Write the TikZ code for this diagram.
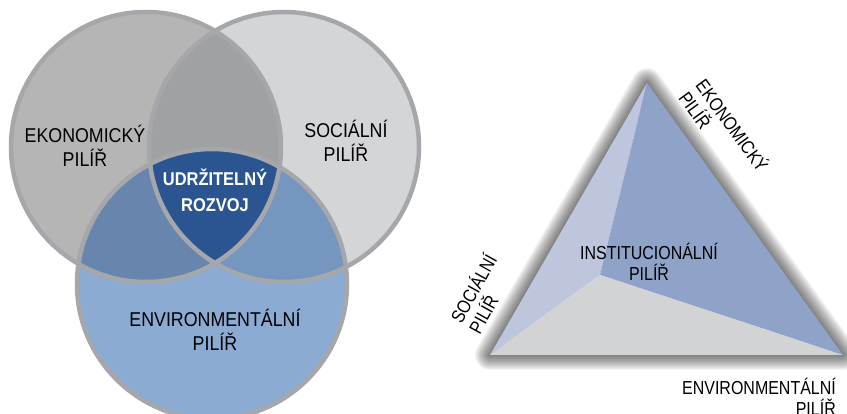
\documentclass[tikz,border=0pt]{standalone}
\usepackage{fontspec}
\setmainfont{Liberation Sans}
\newfontfamily\vennfont[FakeStretch=0.89]{Liberation Sans}
\newfontfamily\trifont[FakeStretch=0.85]{Liberation Sans}
\definecolor{ringgray}{HTML}{A6A7AA}
\definecolor{econgray}{HTML}{B5B5B6}
\definecolor{socgray}{HTML}{D4D5D7}
\definecolor{envblue}{HTML}{8CABD3}
\definecolor{econsoc}{HTML}{A0A1A3}
\definecolor{econenv}{HTML}{6785AD}
\definecolor{socenv}{HTML}{7596BF}
\definecolor{goalblue}{HTML}{2A5591}
\definecolor{faceleft}{HTML}{BDC6DC}
\definecolor{faceright}{HTML}{8FA3C9}
\definecolor{facebottom}{HTML}{D2D3D5}
\tikzset{
  ring/.style={
    % The border:
    draw=ringgray,
    line width=4.5pt},
  venn label/.style={
    % The text:
    font=\vennfont\fontsize{20}{24}\selectfont,
    align=center,
    inner sep=0pt},
  goal label/.style={
    font=\vennfont\bfseries\fontsize{18.5}{26}\selectfont,
    align=center,inner sep=0pt,text=white},
  tri label/.style={
    % The text:
    font=\trifont\fontsize{18.8}{21}\selectfont,
    inner sep=0pt},
  point/.style={coordinate}
}

\begin{document}
\begin{tikzpicture}[x=1pt,y=-1pt,
                    shadow ring/.style={draw=black,draw opacity=0.045,line join=round}]
  \useasboundingbox (0,0) rectangle (847,414);

  % Venn diagram
  \node (econ c) [point] at (146,147) {};
  \node (soc c)  [point] at (284,147) {};
  \node (env c)  [point] at (212,284) {};

  \fill[econgray] (econ c) circle (135pt);
  \fill[socgray]  (soc c)  circle (135pt);
  \fill[envblue]  (env c)  circle (135pt);
  \begin{scope}
    \clip (econ c) circle (135pt);
    \fill[econsoc] (soc c) circle (135pt);
    \fill[econenv] (env c) circle (135pt);
  \end{scope}
  \begin{scope}
    \clip (soc c) circle (135pt);
    \fill[socenv] (env c) circle (135pt);
  \end{scope}
  \begin{scope}
    \clip (econ c) circle (135pt);
    \clip (soc c) circle (135pt);
    \fill[goalblue] (env c) circle (135pt);
  \end{scope}
  \draw[ring] (econ c) circle (135pt);
  \draw[ring] (soc c)  circle (135pt);
  \draw[ring] (env c)  circle (135pt);

  \node (econ) [venn label] at (85,146)  {EKONOMICKÝ\\PILÍŘ};
  \node (soc)  [venn label] at (346,141) {SOCIÁLNÍ\\PILÍŘ};
  \node (goal) [goal label] at (215,190) {UDRŽITELNÝ\\ROZVOJ};
  \node (env)  [venn label] at (215,330) {ENVIRONMENTÁLNÍ\\PILÍŘ};

  % Triangle
  \node (top)   [point] at (647,83)  {};
  \node (left)  [point] at (490,355) {};
  \node (right) [point] at (843,355) {};
  \node (mid)   [point] at (600,275) {};

  \begin{scope}[yshift=-3pt]
    \foreach \w in {2,4,...,30}
      \draw[shadow ring,line width=\w pt] (top) -- (left) -- (right) -- cycle;
  \end{scope}
  \fill[faceleft]   (top) -- (left) -- (mid) -- cycle;
  \fill[faceright]  (top) -- (mid) -- (right) -- cycle;
  \fill[facebottom] (left) -- (mid) -- (right) -- cycle;

  \node (inst)   [tri label,align=center] at (649,262) {INSTITUCIONÁLNÍ\\PILÍŘ};
  \node (econ t) [tri label,align=left,anchor=north west,rotate=-54] at (708,76) {EKONOMICKÝ\\PILÍŘ};
  \node (soc t)  [tri label,align=left,anchor=north west,rotate=61] at (447,317) {SOCIÁLNÍ\\PILÍŘ};
  \node (env t)  [tri label,align=right,anchor=north east] at (836,378) {ENVIRONMENTÁLNÍ\\PILÍŘ};
\end{tikzpicture}
\end{document}
